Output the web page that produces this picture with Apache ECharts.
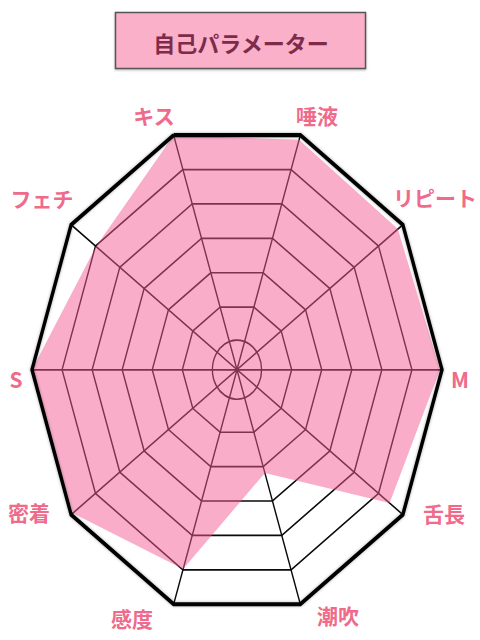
<!DOCTYPE html>
<html><head><meta charset="utf-8">
<script src="https://cdn.jsdelivr.net/npm/echarts@6/dist/echarts.min.js"></script>
<style>
html,body{margin:0;padding:0;background:#fff;width:480px;height:640px;overflow:hidden}
#radar{position:absolute;left:0;top:0;width:480px;height:532px;transform:scaleY(1.203);transform-origin:0 0}
#overlay{position:absolute;left:0;top:0;width:480px;height:640px}
</style></head><body>
<div id="radar"></div><div id="overlay"></div>
<script>
// ---- data ----
const titleText = '自己パラメーター';
const indicatorNames = ['キス', 'フェチ', 'S', '密着', '感度', '潮吹', '舌長', 'M', 'リピート', '唾液'];
const maxValue = 100;
const selfValues = [100, 85, 100, 99, 85, 44, 92, 99, 97, 98];

// ---- layout (label anchor points, px) ----
const labelPos = [[154,115],[42,198],[16,379],[29,512],[132,618],[338,615],[444,513],[460,379],[435,197],[317,115]];

const FONT = '"Noto Sans CJK JP", "Noto Sans", sans-serif';
const LINE = '#0a0a0a';
const indicator = indicatorNames.map(n => ({ name: n, min: 0, max: maxValue }));
const center = [237, 307.3];
const R = 205, R0 = 24.6;
const base = () => ({
  indicator: indicator, center: center, startAngle: 108, shape: 'polygon',
  axisName: { show: false }, axisTick: { show: false }, axisLabel: { show: false },
  splitArea: { show: false }
});
const ringColors = ['rgba(0,0,0,0)'].concat(Array(6).fill(LINE));

const radarChart = echarts.init(document.getElementById('radar'), null, { renderer: 'svg' });
radarChart.setOption({
  animation: false,
  radar: [
    Object.assign(base(), { radius: [R0, R], splitNumber: 6, axisLine: { show: false },
      splitLine: { show: true, lineStyle: { color: ringColors, width: 1.4 } } }),
    Object.assign(base(), { radius: R, splitNumber: 1,
      axisLine: { show: true, lineStyle: { color: LINE, width: 1.4 } }, splitLine: { show: false } }),
    Object.assign(base(), { shape: 'circle', radius: R0, splitNumber: 1, axisLine: { show: false },
      splitLine: { show: true, lineStyle: { color: ['rgba(0,0,0,0)', LINE], width: 1.4 } } }),
    Object.assign(base(), { radius: R, splitNumber: 1, z: 5, axisLine: { show: false },
      splitLine: { show: true, lineStyle: { color: ['rgba(0,0,0,0)', '#000'], width: 3.4,
        shadowBlur: 3, shadowColor: 'rgba(0,0,0,0.35)' } } })
  ],
  series: [{
    type: 'radar', radarIndex: 1, symbol: 'none', silent: true, z: 2,
    lineStyle: { width: 0, opacity: 0 },
    areaStyle: { color: '#f35c94', opacity: 0.5 },
    data: [{ name: titleText, value: selfValues }]
  }]
});

const overlay = echarts.init(document.getElementById('overlay'), null, { renderer: 'svg' });
const labelGraphics = indicatorNames.map((n, i) => ({
  type: 'text', x: labelPos[i][0], y: labelPos[i][1], silent: true,
  style: { text: n, fill: '#ef6a8b', font: 'bold 21px ' + FONT, align: 'center', verticalAlign: 'middle' }
}));
overlay.setOption({
  animation: false,
  backgroundColor: 'transparent',
  graphic: [
    { type: 'rect', shape: { x: 115.5, y: 12.5, width: 250, height: 56 }, silent: true,
      style: { fill: '#fbb0c9', stroke: '#555', lineWidth: 1.5, shadowBlur: 2, shadowOffsetY: 1, shadowColor: 'rgba(0,0,0,0.3)' } },
    { type: 'text', x: 241, y: 42, silent: true,
      style: { text: titleText, fill: '#7d2b4b', font: 'bold 22px ' + FONT, align: 'center', verticalAlign: 'middle' } }
  ].concat(labelGraphics)
});
</script>
</body></html>
